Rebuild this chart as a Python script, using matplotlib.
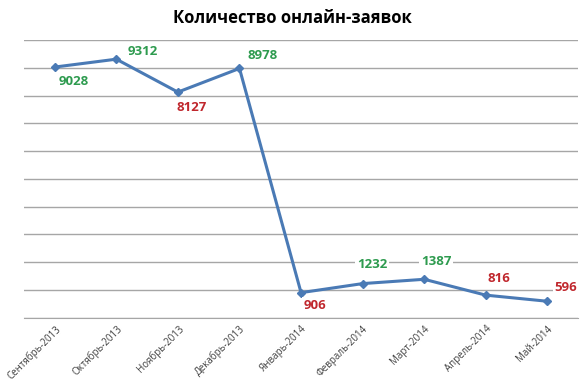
import matplotlib
matplotlib.use("Agg")
import matplotlib.pyplot as plt

months = ["Сентябрь-2013", "Октябрь-2013", "Ноябрь-2013", "Декабрь-2013", "Январь-2014",
          "Февраль-2014", "Март-2014", "Апрель-2014", "Май-2014"]
requests = [9028, 9312, 8127, 8978, 906, 1232, 1387, 816, 596]
# green = рост, red = падение
label_colors = ["#2e9b4f", "#2e9b4f", "#c0272d", "#2e9b4f", "#c0272d",
                "#2e9b4f", "#2e9b4f", "#c0272d", "#c0272d"]
# label offsets in points relative to the marker
label_offsets = [(13.7, -10.5), (18.7, 5.8), (10, -11), (16.5, 9), (10, -9),
                 (7, 13.4), (8.6, 13), (9.6, 12), (13.5, 10)]

plt.rcParams["font.family"] = ["Open Sans", "DejaVu Sans"]

fig = plt.figure(figsize=(5.84, 3.89), dpi=100)
ax = fig.add_axes([0.041, 0.183, 0.949, 0.714])

x = range(len(months))
ax.plot(x, requests, color="#4a7ab5", linewidth=2.2, marker="D", markersize=4.5, zorder=3)

for i, (v, c, off) in enumerate(zip(requests, label_colors, label_offsets)):
    ax.annotate(str(v), (i, v), xytext=off, textcoords="offset points",
                ha="center", va="center", color=c, fontsize=9.5, fontweight="bold",
                bbox=dict(boxstyle="square,pad=0.15", fc="white", ec="none"), zorder=4)

ax.set_xlim(-0.5, len(months) - 0.5)
ax.set_ylim(0, 10000)
ax.set_yticks(range(0, 10001, 1000))
ax.yaxis.grid(True, color="#a6a6a6", linewidth=1)
ax.set_axisbelow(True)
ax.tick_params(axis="y", left=False, labelleft=False)
ax.tick_params(axis="x", length=0, pad=4)
ax.set_xticks(list(x))
ax.set_xticklabels(months, rotation=45, ha="right", rotation_mode="anchor",
                   fontsize=7, color="#404040")
for s in ["top", "right", "left"]:
    ax.spines[s].set_visible(False)
ax.spines["bottom"].set_color("#a6a6a6")

fig.text(0.5, 0.955, "Количество онлайн-заявок", ha="center", va="center",
         fontsize=12, fontweight="bold")

fig.savefig("out.png", dpi=100)
